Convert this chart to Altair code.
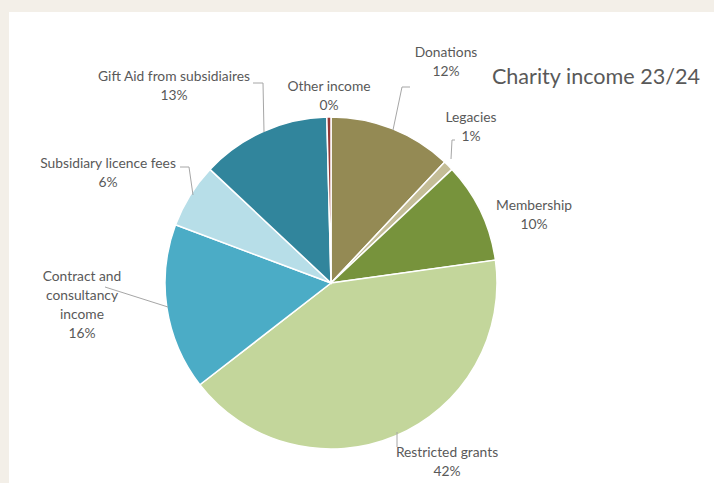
import altair as alt
import pandas as pd

# ---- data ----
categories = ["Donations", "Legacies", "Membership", "Restricted grants",
              "Contract and consultancy income", "Subsidiary licence fees",
              "Gift Aid from subsidiaires", "Other income"]
shares = [12.0, 1.0, 9.8, 41.7, 16.2, 6.3, 12.6, 0.4]
colors = ["#948A54", "#C4BD97", "#77933C", "#C3D69B",
          "#4BACC6", "#B7DEE8", "#31859C", "#953735"]
label_names = ["Donations", "Legacies", "Membership", "Restricted grants",
               "Contract and\nconsultancy\nincome", "Subsidiary licence fees",
               "Gift Aid from subsidiaires", "Other income"]
title_text = "Charity income 23/24"

# ---- layout (pixel positions of labels and leader lines) ----
W, H = 714, 483
CX, CY, R = 331, 283, 166
label_x = [446, 471, 534, 447, 82, 108, 174, 329]
label_y = [53, 118, 206, 453, 277, 164, 77, 87]
leaders = {
    "Donations": [(410, 87), (402, 87), (393, 130)],
    "Legacies": [(455, 140), (452, 140), (451, 159)],
    "Restricted grants": [(397, 432), (397, 447)],
    "Contract": [(105, 287), (168, 307)],
    "Subsidiary": [(180, 167), (189, 167), (193, 195)],
    "Gift Aid": [(253, 83), (263, 83), (264, 132)],
}

pie_df = pd.DataFrame({
    "category": categories,
    "share": shares,
    "order": list(range(len(categories))),
})
lab_df = pd.DataFrame({
    "category": categories,
    "label": [f"{n}\n{round(s)}%" for n, s in zip(label_names, shares)],
    "x": label_x,
    "y": label_y,
})
rows = []
for name, pts in leaders.items():
    for i, (x, y) in enumerate(pts):
        rows.append({"seg": name, "pt": i, "x": x, "y": y})
lead_df = pd.DataFrame(rows)

xs = alt.Scale(domain=[0, W], nice=False, zero=False)
ys = alt.Scale(domain=[H, 0], nice=False, zero=False)

panel = alt.Chart(pd.DataFrame({"a": [0]})).mark_rect(color="white").encode(
    x=alt.value(9), x2=alt.value(W), y=alt.value(12), y2=alt.value(H)
)

pie = alt.Chart(pie_df).mark_arc(radius=R, stroke="white", strokeWidth=1.5).encode(
    theta=alt.Theta("share:Q", stack=True),
    order=alt.Order("order:Q"),
    color=alt.Color("category:N", scale=alt.Scale(domain=categories, range=colors), legend=None),
    x=alt.value(CX),
    y=alt.value(CY),
)

lines = alt.Chart(lead_df).mark_line(color="#A6A6A6", strokeWidth=1).encode(
    x=alt.X("x:Q", scale=xs, axis=None),
    y=alt.Y("y:Q", scale=ys, axis=None),
    detail="seg:N",
    order="pt:Q",
)

labels = alt.Chart(lab_df).mark_text(
    font="Lato", fontSize=13.8, color="#595959", lineBreak="\n", lineHeight=19,
    align="center", baseline="middle",
).encode(
    x=alt.X("x:Q", scale=xs, axis=None),
    y=alt.Y("y:Q", scale=ys, axis=None),
    text="label:N",
)

title = alt.Chart(pd.DataFrame({"t": [title_text]})).mark_text(
    font="Lato", fontSize=21.6, color="#595959", align="center", baseline="middle",
).encode(x=alt.value(596), y=alt.value(78), text="t:N")

chart = alt.layer(panel, pie, lines, labels, title).properties(
    width=W, height=H, padding=0, autosize=alt.AutoSizeParams(type="none"),
    background="#F3EFE8",
).configure_view(stroke=None)

chart.save("out.html", embed_options={"renderer": "svg", "actions": False})
